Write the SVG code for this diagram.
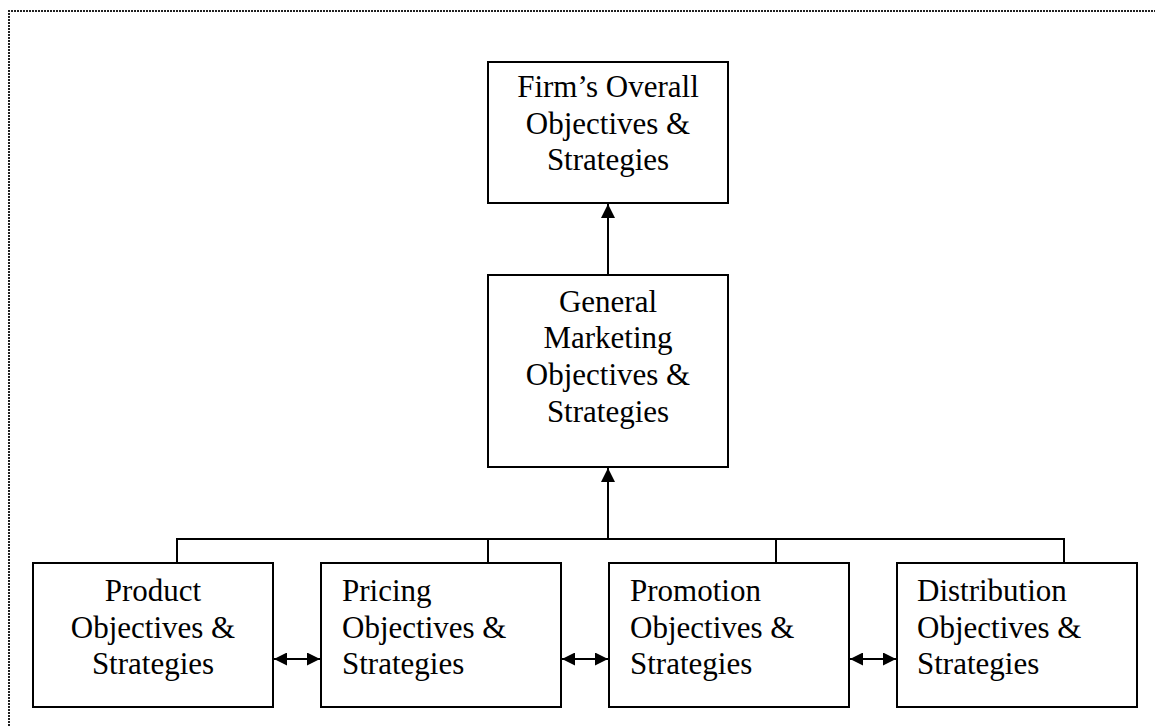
<svg xmlns="http://www.w3.org/2000/svg" width="1155" height="726" viewBox="0 0 1155 726">
<style>
.box{fill:#fff;stroke:#000;stroke-width:2}
.t{font-family:"Liberation Serif","Times New Roman",serif;font-size:31px;fill:#000}
.c{text-anchor:middle}
.ln{fill:none;stroke:#000;stroke-width:2}
.frame{fill:none;stroke:#222;stroke-width:2;stroke-dasharray:2 1}
</style>
<defs>
<marker id="ah" viewBox="0 0 10 10" refX="10" refY="5" markerWidth="7" markerHeight="7" markerUnits="strokeWidth" orient="auto-start-reverse">
<path d="M0,0 L10,5 L0,10 Z" fill="#000"/>
</marker>
<marker id="ah2" viewBox="0 0 10 10" refX="10" refY="5" markerWidth="7.5" markerHeight="6.5" markerUnits="strokeWidth" orient="auto-start-reverse">
<path d="M0,0 L10,5 L0,10 Z" fill="#000"/>
</marker>
</defs>
<rect width="1155" height="726" fill="#fff"/>
<path class="frame" d="M9,726 V11 H1155"/>

<g id="connectors">
<line class="ln" x1="608" y1="275" x2="608" y2="204" marker-end="url(#ah)"/>
<polyline class="ln" points="177,563 177,539 1064,539 1064,563"/>
<line class="ln" x1="488" y1="539" x2="488" y2="563"/>
<line class="ln" x1="776" y1="539" x2="776" y2="563"/>
<line class="ln" x1="608" y1="539" x2="608" y2="468" marker-end="url(#ah)"/>
<line class="ln" x1="274" y1="659" x2="320" y2="659" marker-start="url(#ah2)" marker-end="url(#ah2)"/>
<line class="ln" x1="562" y1="659" x2="608" y2="659" marker-start="url(#ah2)" marker-end="url(#ah2)"/>
<line class="ln" x1="850" y1="659" x2="896" y2="659" marker-start="url(#ah2)" marker-end="url(#ah2)"/>
</g>

<g id="firm">
<rect class="box" x="488" y="62" width="240" height="141"/>
<text class="t c" x="608" y="97">Firm’s Overall</text>
<text class="t c" x="608" y="134">Objectives &amp;</text>
<text class="t c" x="608" y="170">Strategies</text>
</g>

<g id="general">
<rect class="box" x="488" y="275" width="240" height="192"/>
<text class="t c" x="608" y="312">General</text>
<text class="t c" x="608" y="348">Marketing</text>
<text class="t c" x="608" y="385">Objectives &amp;</text>
<text class="t c" x="608" y="422">Strategies</text>
</g>

<g id="product">
<rect class="box" x="33" y="563" width="240" height="144"/>
<text class="t c" x="153" y="601">Product</text>
<text class="t c" x="153" y="638">Objectives &amp;</text>
<text class="t c" x="153" y="674">Strategies</text>
</g>

<g id="pricing">
<rect class="box" x="321" y="563" width="240" height="144"/>
<text class="t" x="342" y="601">Pricing</text>
<text class="t" x="342" y="638">Objectives &amp;</text>
<text class="t" x="342" y="674">Strategies</text>
</g>

<g id="promotion">
<rect class="box" x="609" y="563" width="240" height="144"/>
<text class="t" x="630" y="601">Promotion</text>
<text class="t" x="630" y="638">Objectives &amp;</text>
<text class="t" x="630" y="674">Strategies</text>
</g>

<g id="distribution">
<rect class="box" x="897" y="563" width="240" height="144"/>
<text class="t" x="917" y="601">Distribution</text>
<text class="t" x="917" y="638">Objectives &amp;</text>
<text class="t" x="917" y="674">Strategies</text>
</g>
</svg>
